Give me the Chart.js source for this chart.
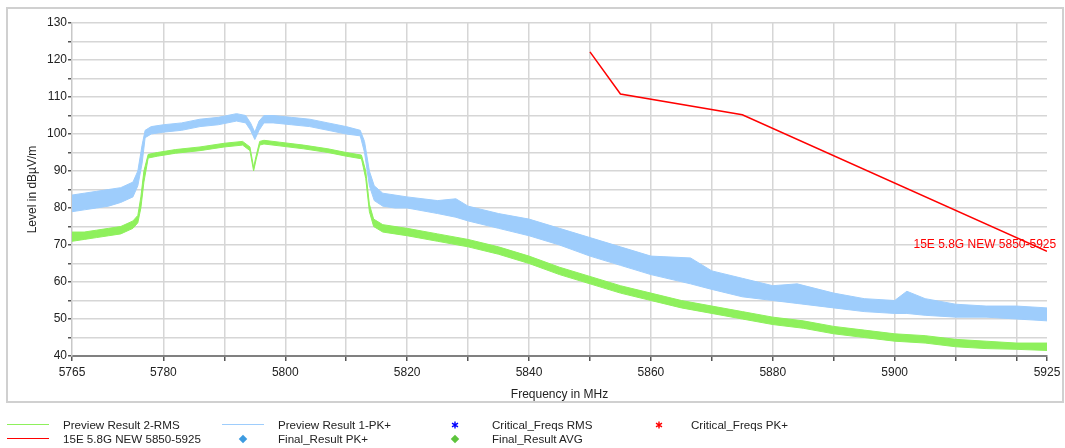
<!DOCTYPE html>
<html>
<head>
<meta charset="utf-8">
<script src="https://cdn.jsdelivr.net/npm/chart.js@4"></script>
<style>
  html, body { margin: 0; padding: 0; background: #fff; }
  body { width: 1065px; height: 448px; position: relative; overflow: hidden; font-family: "Liberation Sans", Arial, sans-serif; }
  #chart { position: absolute; left: 0; top: 0; }
  #frame { position: absolute; left: 6px; top: 7px; width: 1054px; height: 392px; border: 2px solid #d0d0d0; pointer-events: none; }
  .lg-text { position: absolute; font-size: 11.6px; line-height: 14px; color: #222; white-space: nowrap; }
  .lg-line { position: absolute; width: 42px; height: 0; border-top: 1.5px solid; }
  .lg-diamond { position: absolute; width: 6px; height: 6px; transform: rotate(45deg); }
</style>
</head>
<body>
<canvas id="chart" width="1065" height="448"></canvas>
<div id="frame"></div>
<div id="legend"></div>
<script>
// axis
const xTicks = [5765, 5780, 5790, 5800, 5810, 5820, 5830, 5840, 5850, 5860, 5870, 5880, 5890, 5900, 5910, 5920, 5925];
const xLabels = [5765, 5780, 5800, 5820, 5840, 5860, 5880, 5900, 5925];

// Preview Result 1-PK+ (upper / lower edge of the noise band)
const pkFreq = [5765, 5767, 5769, 5771, 5773, 5775, 5775.8, 5776.5, 5777, 5778, 5780, 5783, 5786, 5789, 5792, 5793.5, 5794.3, 5795, 5795.7, 5796.5, 5798, 5801, 5804, 5807, 5810, 5812.3, 5813, 5813.8, 5814.6, 5816, 5818, 5820, 5825, 5828, 5830, 5835, 5840, 5845, 5850, 5855, 5860, 5866.5, 5870, 5875, 5880, 5884, 5890, 5895, 5900, 5902, 5905, 5910, 5915, 5920, 5925];
const pkHigh = [83.5, 84, 84.5, 85, 85.5, 87, 90, 97, 101, 102, 102.5, 103, 104, 104.5, 105.5, 105, 103, 100.5, 103.5, 105, 105, 104.5, 104, 103, 102, 101, 98, 90, 86, 84, 83.5, 83, 82, 82.5, 80.5, 78.5, 77, 74.5, 72, 69.5, 67, 66.5, 63, 61, 59, 59.5, 57, 55.5, 55, 57.5, 55.5, 54, 53.5, 53.5, 53];
const pkLow = [79, 79.5, 80, 80.5, 81.5, 83, 86, 92, 99, 100, 100.5, 101, 102, 102.5, 103.5, 103, 101, 98.5, 101, 103, 103, 102.5, 102, 101, 100, 99.5, 95, 86, 82, 80.5, 80, 80, 78.5, 77.5, 76.5, 74.5, 72.5, 70, 67, 64.5, 62, 59.5, 58, 56, 55, 54.2, 53, 52, 51.5, 51.5, 51, 50.5, 50.5, 50, 49.5];

// Preview Result 2-RMS
const rmsFreq = [5765, 5767, 5769, 5771, 5773, 5775, 5775.8, 5776.3, 5776.8, 5777.5, 5779, 5782, 5786, 5790, 5793, 5794.2, 5794.8, 5795.2, 5795.8, 5796.5, 5799, 5803, 5807, 5810, 5812.5, 5813.2, 5813.8, 5814.5, 5816, 5818, 5820, 5825, 5830, 5835, 5840, 5845, 5850, 5855, 5860, 5865, 5870, 5875, 5880, 5885, 5890, 5895, 5900, 5905, 5910, 5915, 5920, 5925];
const rmsHigh = [73.5, 73.5, 74, 74.5, 75, 76.5, 78, 83, 90, 94.5, 95, 95.8, 96.5, 97.5, 98, 96.5, 91, 94, 98, 98.3, 97.8, 97, 96, 95, 94.3, 90, 81, 77, 75.5, 75, 74.5, 73, 71.5, 69.5, 67, 64, 61.5, 59, 57, 55, 53.5, 52, 50.5, 49.5, 48, 47, 46, 45.5, 44.5, 44, 43.5, 43.5];
const rmsLow = [71, 71.5, 72, 72.5, 73, 74.5, 76, 80, 87, 93.5, 94, 94.8, 95.5, 96.5, 97, 95.5, 90, 93, 97, 97.3, 96.8, 96, 95, 94, 93.3, 88, 79, 75, 73.5, 73, 72.5, 71, 69.5, 67.5, 65, 62, 59.5, 57, 55, 53, 51.5, 50, 48.5, 47.5, 46, 45, 44, 43.5, 42.5, 42, 41.8, 41.5];

// limit line
const limitName = '15E 5.8G NEW 5850-5925';
const limitFreq = [5850, 5855, 5875, 5925];
const limitLevel = [122.2, 110.8, 105.2, 68.3];
const limitLabelAt = [5914.8, 70.2];

const green = '#8ef05c';
const blue = '#9ecdfc';
const red = '#ff0000';
const font = '"Liberation Sans", Arial, sans-serif';

const pts = (xs, ys) => xs.map((x, i) => ({ x: x, y: ys[i] }));

const limitLabel = {
    id: 'limitLabel',
    afterDatasetsDraw(chart) {
        const { ctx, scales } = chart;
        ctx.save();
        ctx.font = '12px ' + font;
        ctx.fillStyle = red;
        ctx.textAlign = 'center';
        ctx.textBaseline = 'middle';
        ctx.fillText(limitName, scales.x.getPixelForValue(limitLabelAt[0]), scales.y.getPixelForValue(limitLabelAt[1]));
        ctx.restore();
    }
};

const chart = new Chart(document.getElementById('chart'), {
    type: 'line',
    data: {
        datasets: [
            { data: pts(pkFreq, pkHigh), borderColor: blue, borderWidth: 1, fill: false },
            { data: pts(pkFreq, pkLow), borderColor: blue, backgroundColor: blue, borderWidth: 1, fill: '-1' },
            { data: pts(rmsFreq, rmsHigh), borderColor: green, borderWidth: 1, fill: false },
            { data: pts(rmsFreq, rmsLow), borderColor: green, backgroundColor: green, borderWidth: 1, fill: '-1' },
            { data: pts(limitFreq, limitLevel), borderColor: red, borderWidth: 1.5, fill: false }
        ]
    },
    options: {
        responsive: false,
        animation: false,
        devicePixelRatio: 1,
        layout: { padding: { left: 0, right: 18, top: 23, bottom: 0 } },
        datasets: { line: { pointRadius: 0, tension: 0 } },
        plugins: { legend: { display: false }, tooltip: { enabled: false } },
        scales: {
            x: {
                type: 'linear',
                min: 5765,
                max: 5925,
                afterFit(scale) { scale.height = 92; },
                afterBuildTicks(scale) { scale.ticks = xTicks.map(v => ({ value: v })); },
                ticks: {
                    autoSkip: false,
                    maxRotation: 0,
                    padding: 4,
                    color: '#222',
                    font: { family: font, size: 12 },
                    callback: v => xLabels.includes(v) ? String(v) : ''
                },
                grid: {
                    color: c => (c.tick && (c.tick.value === 5765 || c.tick.value === 5925)) ? 'rgba(0,0,0,0)' : '#d6d6d6',
                    lineWidth: 1.5,
                    tickColor: '#555',
                    tickLength: 5
                },
                border: { color: '#808080', width: 2 },
                title: {
                    display: true,
                    text: 'Frequency in MHz',
                    color: '#222',
                    font: { family: font, size: 12 },
                    padding: { top: 0, bottom: 46 }
                }
            },
            y: {
                type: 'linear',
                min: 40,
                max: 130,
                afterFit(scale) { scale.width = 72; },
                ticks: {
                    stepSize: 5,
                    autoSkip: false,
                    padding: 1,
                    color: '#222',
                    font: { family: font, size: 12 },
                    callback: v => v % 10 === 0 ? String(v) : ''
                },
                grid: { color: '#d6d6d6', lineWidth: 1.5, tickColor: '#555', tickLength: 4 },
                border: { color: '#c8c8c8', width: 1.5 },
                title: {
                    display: true,
                    text: 'Level in dBµV/m',
                    color: '#222',
                    font: { family: font, size: 12 },
                    padding: { top: 25, bottom: 0 }
                }
            }
        }
    },
    plugins: [limitLabel]
});

// legend below the frame
const legendItems = [
    { text: 'Preview Result 2-RMS', kind: 'line', color: green, col: 0, row: 0 },
    { text: limitName, kind: 'line', color: red, col: 0, row: 1 },
    { text: 'Preview Result 1-PK+', kind: 'line', color: blue, col: 1, row: 0 },
    { text: 'Final_Result PK+', kind: 'diamond', color: '#3d9be0', col: 1, row: 1 },
    { text: 'Critical_Freqs RMS', kind: 'star', color: '#0000ff', col: 2, row: 0 },
    { text: 'Final_Result AVG', kind: 'diamond', color: '#5cc43c', col: 2, row: 1 },
    { text: 'Critical_Freqs PK+', kind: 'star', color: red, col: 3, row: 0 }
];
const colLine = [7, 222, 434, 638];
const colMark = [28, 243, 455, 659];
const colText = [63, 278, 492, 691];
const rowY = [425, 439];

const legend = document.getElementById('legend');
legendItems.forEach(item => {
    const y = rowY[item.row];
    if (item.kind === 'line') {
        const l = document.createElement('div');
        l.className = 'lg-line';
        l.style.left = colLine[item.col] + 'px';
        l.style.top = (y - 1) + 'px';
        l.style.borderTopColor = item.color;
        legend.append(l);
    } else if (item.kind === 'diamond') {
        const d = document.createElement('div');
        d.className = 'lg-diamond';
        d.style.left = (colMark[item.col] - 3) + 'px';
        d.style.top = (y - 3) + 'px';
        d.style.background = item.color;
        legend.append(d);
    } else {
        const s = document.createElementNS('http://www.w3.org/2000/svg', 'svg');
        s.setAttribute('width', '8');
        s.setAttribute('height', '8');
        s.style.position = 'absolute';
        s.style.left = (colMark[item.col] - 4) + 'px';
        s.style.top = (y - 4) + 'px';
        s.innerHTML = '<path d="M4 0.5V7.5M1 2.2L7 5.8M1 5.8L7 2.2" stroke="' + item.color + '" stroke-width="1.4"/>';
        legend.append(s);
    }
    const t = document.createElement('div');
    t.className = 'lg-text';
    t.textContent = item.text;
    t.style.left = colText[item.col] + 'px';
    t.style.top = (y - 7) + 'px';
    legend.append(t);
});
</script>
</body>
</html>
